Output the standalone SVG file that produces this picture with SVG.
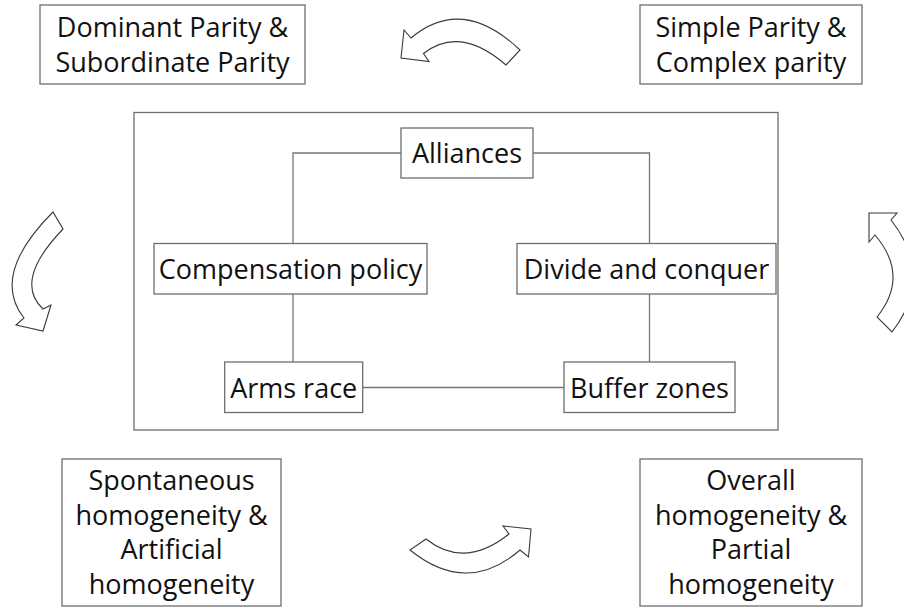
<svg xmlns="http://www.w3.org/2000/svg" width="904" height="613" viewBox="0 0 904 613">
<style>
.box{fill:#fff;stroke:#6e6e6e;stroke-width:1.3}
.frame{fill:none;stroke:#6e6e6e;stroke-width:1.3}
.t{font-family:"Open Sans","Noto Sans","Liberation Sans",sans-serif;font-size:27px;fill:#111;text-anchor:middle}
.ln{fill:none;stroke:#777;stroke-width:1.3}
.arr{fill:#fff;stroke:#3a3a3a;stroke-width:1.1;stroke-linejoin:miter}
</style>
<rect width="904" height="613" fill="#fff"/>
<rect class="frame" x="134" y="112.5" width="644" height="317.5"/>
<g id="connectors">
<polyline class="ln" points="401,153 293,153 293,243"/>
<polyline class="ln" points="533,153 649.5,153 649.5,243"/>
<line class="ln" x1="293" y1="294" x2="293" y2="362"/>
<line class="ln" x1="649.5" y1="294" x2="649.5" y2="362"/>
<line class="ln" x1="362.7" y1="387.5" x2="564" y2="387.5"/>
</g>
<g id="arrows">
<path class="arr" d="M520,50 Q462,-5 411,38 L404,30 L401,58 L429,61.5 L423.5,53.5 Q460,25 506,65 Z"/>
<path class="arr" d="M53,212 Q-10,275 24,318 L16,325 L43,331 L51,305 L43,309 Q13,281 63,229 Z"/>
<path class="arr" d="M877,317 Q910,276 875,235 L869,242 L869,213 L897,213 L891,220 Q935,276 892,332 Z"/>
<path class="arr" d="M410,550 Q467,596 520,550 L528.5,557 L531,529 L503,526 L509,534 Q464.5,569.5 426,539 Z"/>
</g>
<g id="n-dominant">
<rect class="box" x="40" y="5" width="265" height="79"/>
<text class="t" x="172.5" y="37">Dominant Parity &amp;</text>
<text class="t" x="172.5" y="72">Subordinate Parity</text>
</g>
<g id="n-simple">
<rect class="box" x="640" y="5" width="222" height="79"/>
<text class="t" x="751" y="37">Simple Parity &amp;</text>
<text class="t" x="751" y="72">Complex parity</text>
</g>
<g id="n-alliances">
<rect class="box" x="401" y="128" width="132" height="50"/>
<text class="t" x="467" y="163">Alliances</text>
</g>
<g id="n-compensation">
<rect class="box" x="154" y="243.5" width="273" height="50.5"/>
<text class="t" x="290.5" y="279">Compensation policy</text>
</g>
<g id="n-divide">
<rect class="box" x="517" y="243.5" width="259" height="50.5"/>
<text class="t" x="646.5" y="279">Divide and conquer</text>
</g>
<g id="n-arms">
<rect class="box" x="224.7" y="362" width="138" height="50.5"/>
<text class="t" x="293.7" y="397.5">Arms race</text>
</g>
<g id="n-buffer">
<rect class="box" x="564" y="362" width="171" height="50.5"/>
<text class="t" x="649.5" y="397.5">Buffer zones</text>
</g>
<g id="n-spontaneous">
<rect class="box" x="62" y="459" width="219" height="147"/>
<text class="t" x="171.5" y="490">Spontaneous</text>
<text class="t" x="171.5" y="525">homogeneity &amp;</text>
<text class="t" x="171.5" y="559">Artificial</text>
<text class="t" x="171.5" y="594">homogeneity</text>
</g>
<g id="n-overall">
<rect class="box" x="640" y="459" width="222" height="147"/>
<text class="t" x="751" y="490">Overall</text>
<text class="t" x="751" y="525">homogeneity &amp;</text>
<text class="t" x="751" y="559">Partial</text>
<text class="t" x="751" y="594">homogeneity</text>
</g>
</svg>
